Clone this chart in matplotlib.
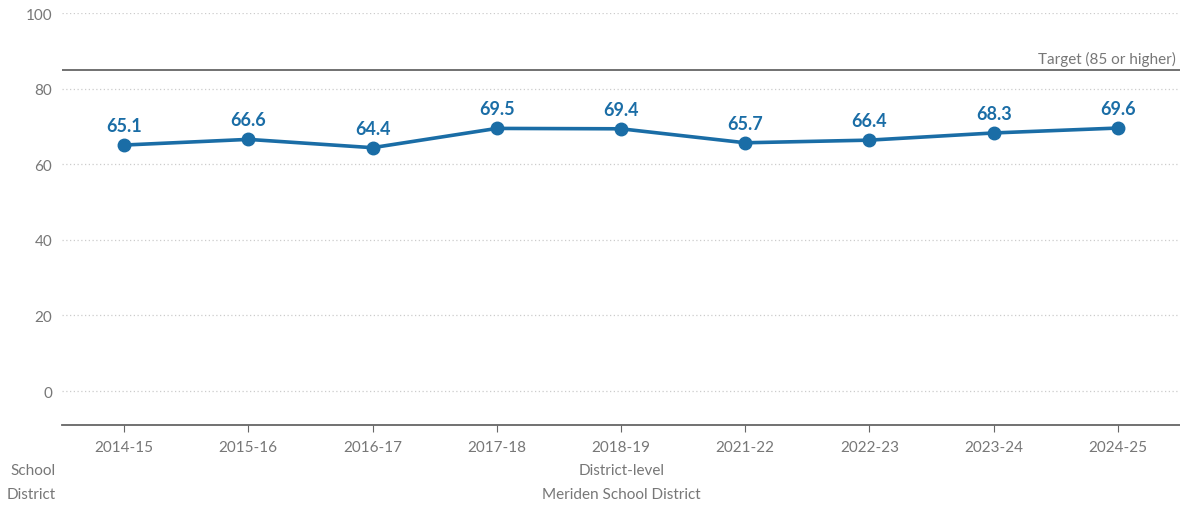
import numpy as np
import matplotlib.pyplot as plt

plt.rcParams['font.family'] = ['Lato', 'DejaVu Sans']

#%%-----Data-------------------------------------------------------------------
years = ['2014-15', '2015-16', '2016-17', '2017-18', '2018-19',
         '2021-22', '2022-23', '2023-24', '2024-25']
scores = [65.1, 66.6, 64.4, 69.5, 69.4, 65.7, 66.4, 68.3, 69.6]
target = 85
yticks = [0, 20, 40, 60, 80, 100]

blue = '#1a6da6'
gray = '#777777'

#%%-----Graph------------------------------------------------------------------
fig = plt.figure(figsize=(11.8, 5.06), dpi=100)
ax = fig.add_axes([0.0525, 0.158, 0.9475, 0.814])

x = np.arange(len(years))
ax.plot(x, scores, color=blue, lw=2.6, marker='o', ms=9, zorder=3)
for xi, v in zip(x, scores):
    ax.annotate(f'{v:.1f}', (xi, v), xytext=(0, 8), textcoords='offset points',
                ha='center', va='bottom', color=blue, fontsize=13,
                fontweight='bold')

ax.axhline(target, color='#666666', lw=1.3, zorder=2)
ax.text(8.47, target + 1, 'Target (85 or higher)', ha='right', va='bottom',
        color=gray, fontsize=11)

ax.set_xlim(-0.5, 8.5)
ax.set_ylim(-9, 100)
ax.set_yticks(yticks)
ax.set_xticks(x)
ax.set_xticklabels(years)
ax.yaxis.grid(True, color='#cccccc', linestyle=(0, (1, 2)), lw=0.9)
ax.set_axisbelow(True)

for s in ['top', 'right', 'left']:
    ax.spines[s].set_visible(False)
ax.spines['bottom'].set_color('#666666')
ax.spines['bottom'].set_linewidth(1.3)
ax.tick_params(axis='y', length=0, labelcolor=gray, labelsize=11, pad=7)
ax.tick_params(axis='x', length=5, color='#666666', labelcolor=gray,
               labelsize=11, pad=6)

fig.text(56 / 1180, 1 - 471 / 506, 'School', ha='right', va='center',
         color=gray, fontsize=11)
fig.text(56 / 1180, 1 - 495 / 506, 'District', ha='right', va='center',
         color=gray, fontsize=11)
fig.text(622 / 1180, 1 - 471 / 506, 'District-level', ha='center', va='center',
         color=gray, fontsize=11)
fig.text(621 / 1180, 1 - 495 / 506, 'Meriden School District', ha='center',
         va='center', color=gray, fontsize=11)

fig.savefig('out.png', dpi=100)
